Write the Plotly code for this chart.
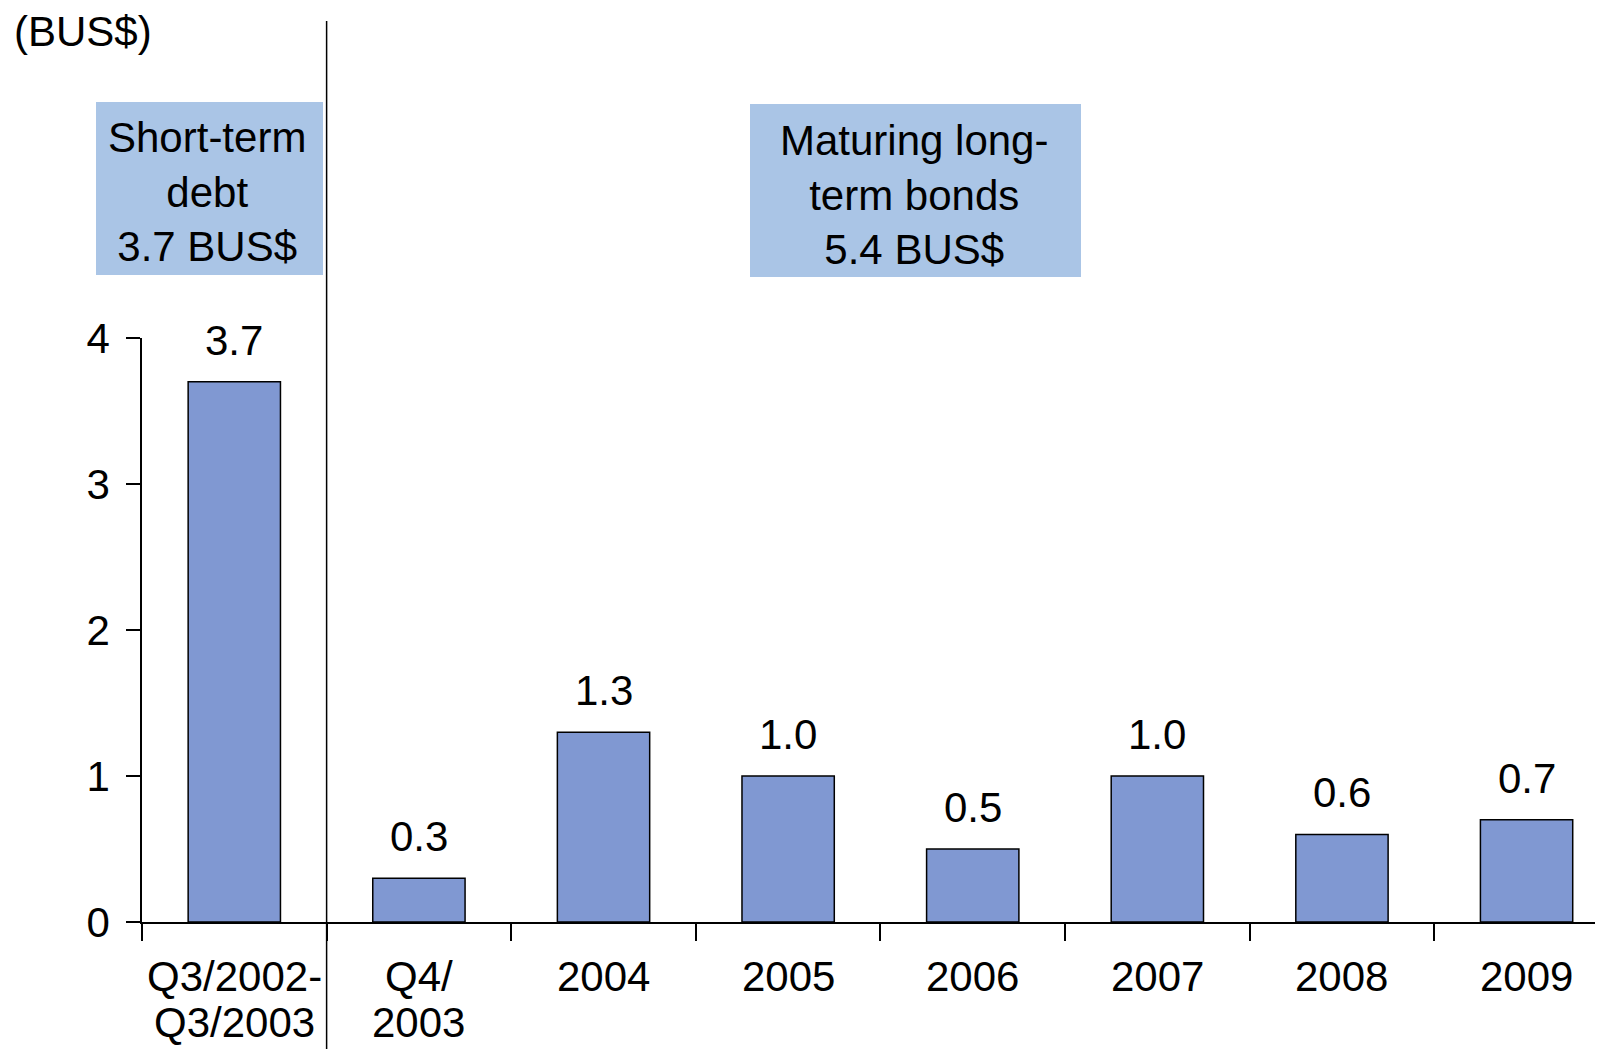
import plotly.graph_objects as go

categories = ["Q3/2002-<br>Q3/2003", "Q4/<br>2003", "2004", "2005", "2006", "2007", "2008", "2009"]
values = [3.7, 0.3, 1.3, 1.0, 0.5, 1.0, 0.6, 0.7]
value_labels = ["3.7", "0.3", "1.3", "1.0", "0.5", "1.0", "0.6", "0.7"]
y_ticks = [0, 1, 2, 3, 4]
unit_label = "(BUS$)"
box_texts = ["Short-term<br>debt<br>3.7 BUS$", "Maturing long-<br>term bonds<br>5.4 BUS$"]

FONT = "Liberation Sans, Arial, sans-serif"
FS = 42
OFF = 8  # default page body margin
W, H = 1603 - OFF, 1049 - OFF
L, R, T, B = 142 - OFF, 0, 338 - OFF, 127

fig = go.Figure()
fig.add_trace(go.Bar(
    x=list(range(len(categories))), y=values, width=0.5,
    marker=dict(color="#8098D2", line=dict(color="black", width=1.5)),
    showlegend=False, hoverinfo="skip",
))

for i, (v, t) in enumerate(zip(values, value_labels)):
    fig.add_annotation(x=i, y=v, text=t, showarrow=False, xanchor="center",
                       yanchor="bottom", yshift=16, font=dict(size=FS, color="black", family=FONT))

# category labels below the axis (drawn line by line for tighter line spacing)
for i, cat in enumerate(categories):
    for j, line in enumerate(cat.split("<br>")):
        fig.add_annotation(x=i, xref="x", y=0, yref="paper", text=line, showarrow=False,
                           xanchor="center", yanchor="middle", yshift=-(54 + 46 * j),
                           font=dict(size=FS, color="black", family=FONT))

plot_w = W - L - R
plot_h = H - T - B
def px_x(p):
    return (p - OFF - L) / plot_w
def px_y(p):
    return (H - B - (p - OFF)) / plot_h

# annotation boxes
fig.add_shape(type="rect", xref="paper", yref="paper",
              x0=px_x(96), x1=px_x(323), y0=px_y(275), y1=px_y(102),
              fillcolor="#AAC5E6", line=dict(width=0), layer="below")
fig.add_shape(type="rect", xref="paper", yref="paper",
              x0=px_x(750), x1=px_x(1081), y0=px_y(277), y1=px_y(104),
              fillcolor="#AAC5E6", line=dict(width=0), layer="below")
fig.add_annotation(xref="paper", yref="paper", x=px_x(207), y=px_y(192),
                   text=box_texts[0], showarrow=False, xanchor="center", yanchor="middle",
                   font=dict(size=FS, color="black", family=FONT))
fig.add_annotation(xref="paper", yref="paper", x=px_x(914), y=px_y(195),
                   text=box_texts[1], showarrow=False, xanchor="center", yanchor="middle",
                   font=dict(size=FS, color="black", family=FONT))

# unit label
fig.add_annotation(xref="paper", yref="paper", x=px_x(12), y=px_y(31),
                   text=unit_label, showarrow=False, xanchor="left", yanchor="middle",
                   font=dict(size=FS, color="black", family=FONT))

# divider line
fig.add_shape(type="line", xref="x", yref="paper", x0=0.5, x1=0.5,
              y0=px_y(1049), y1=px_y(21), line=dict(color="black", width=1.5))

fig.update_xaxes(
    range=[-0.5, 7.414],
    tickmode="array", tickvals=list(range(len(categories))), ticktext=categories,
    showticklabels=False,
    showline=True, linecolor="black", linewidth=2,
    ticks="", showgrid=False, zeroline=False,
)
# boundary tick marks via minor ticks
fig.update_xaxes(minor=dict(tickmode="array", tickvals=[i - 0.5 for i in range(len(categories) + 1)],
                            ticks="outside", ticklen=17, tickwidth=1.5, tickcolor="black", showgrid=False))
fig.update_yaxes(
    range=[0, 4], tickvals=y_ticks, ticktext=[str(v) for v in y_ticks],
    showline=True, linecolor="black", linewidth=1.5,
    ticks="outside", ticklen=14, tickwidth=1.5, tickcolor="black",
    tickfont=dict(size=FS, color="black", family=FONT),
    ticklabelstandoff=8,
    showgrid=False, zeroline=False,
)

fig.update_layout(
    width=W, height=H,
    margin=dict(l=L, r=R, t=T, b=B, autoexpand=False),
    paper_bgcolor="white", plot_bgcolor="white",
    font=dict(family=FONT, color="black"),
)

fig.write_html("out.html")
